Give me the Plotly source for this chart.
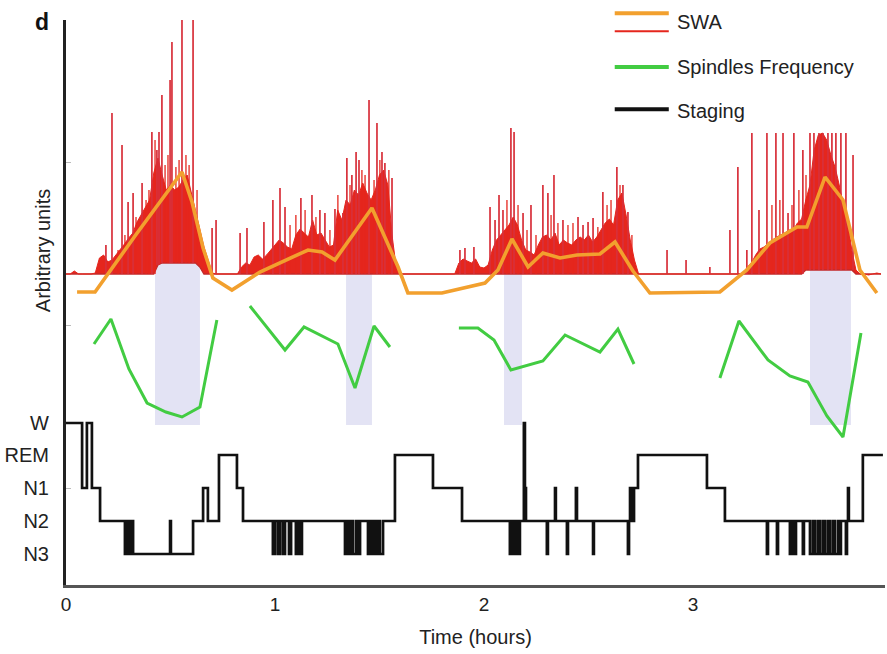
import plotly.graph_objects as go

# ------------------------------------------------------------------ data
# SWA raw signal (dense part), sampled every swa_dt hours, arbitrary units
swa_dt = 0.02
swa_hi = [
    311, 311, 314, 311, 311, 311, 311, 312, 327, 330,
    323, 325, 330, 336, 341, 347, 352, 363, 370, 378,
    385, 412, 427, 410, 395, 400, 395, 398, 405, 410,
    392, 375, 355, 338, 325, 312, 311, 311, 311, 311,
    311, 311, 318, 322, 320, 328, 330, 326, 330, 335,
    340, 345, 342, 338, 336, 350, 356, 352, 348, 365,
    350, 352, 345, 338, 340, 375, 365, 385, 380, 395,
    390, 402, 392, 385, 395, 410, 415, 400, 350, 318,
    311, 311, 311, 311, 311, 311, 311, 311, 311, 311,
    311, 311, 311, 311, 322, 326, 324, 322, 326, 318,
    317, 320, 335, 345, 350, 355, 360, 368, 360, 345,
    335, 333, 330, 340, 348, 350, 345, 352, 340, 345,
    342, 340, 345, 348, 345, 350, 343, 348, 355, 362,
    366, 360, 385, 392, 370, 345, 325, 311, 311, 311,
    311, 311, 311, 311, 311, 311, 311, 311, 311, 311,
    311, 311, 311, 311, 311, 311, 311, 311, 311, 311,
    311, 311, 311, 318, 322, 330, 336, 338, 342, 345,
    348, 350, 352, 355, 355, 362, 366, 385, 400, 435,
    450, 452, 445, 430, 418, 400, 380, 365, 335, 315,
    311, 311, 310, 311, 312, 311,
]
swa_lo = [
    311, 311, 311, 311, 311, 311, 311, 311, 311, 311,
    311, 311, 311, 311, 311, 311, 311, 311, 311, 311,
    311, 311, 320, 322, 322, 322, 322, 322, 322, 322,
    322, 322, 318, 311, 311, 311, 311, 311, 311, 311,
    311, 311, 311, 311, 311, 311, 311, 311, 311, 311,
    311, 311, 311, 311, 311, 311, 311, 311, 311, 311,
    311, 311, 311, 311, 311, 311, 311, 311, 311, 311,
    311, 311, 311, 311, 311, 311, 311, 311, 311, 311,
    311, 311, 311, 311, 311, 311, 311, 311, 311, 311,
    311, 311, 311, 311, 311, 311, 311, 311, 311, 311,
    311, 311, 311, 311, 311, 311, 311, 311, 311, 311,
    311, 311, 311, 311, 311, 311, 311, 311, 311, 311,
    311, 311, 311, 311, 311, 311, 311, 311, 311, 311,
    311, 311, 311, 311, 311, 311, 311, 311, 311, 311,
    311, 311, 311, 311, 311, 311, 311, 311, 311, 311,
    311, 311, 311, 311, 311, 311, 311, 311, 311, 311,
    311, 311, 311, 311, 311, 311, 311, 311, 311, 311,
    311, 311, 311, 311, 311, 311, 311, 315, 315, 315,
    315, 315, 315, 315, 315, 315, 315, 315, 315, 311,
    311, 311, 311, 311, 311, 311,
]

# SWA raw signal: isolated tall peaks (time in hours, peak height)
spike_t = [0.191, 0.220, 0.268, 0.297, 0.321, 0.364, 0.411, 0.435, 0.445, 0.459,
           0.498, 0.507, 0.555, 0.608, 0.699, 0.718,
           0.833, 0.866, 0.947, 0.990, 1.024, 1.048, 1.124, 1.177, 1.215, 1.239,
           1.287, 1.325, 1.344, 1.368, 1.388, 1.402, 1.450, 1.488, 1.512, 1.526, 1.560,
           1.885, 1.909, 1.952, 2.029, 2.053, 2.072, 2.091, 2.129, 2.144, 2.187,
           2.225, 2.282, 2.306, 2.335, 2.378, 2.450, 2.474, 2.498, 2.522, 2.569,
           2.636, 2.665, 2.689,
           2.876, 2.967, 3.081, 3.177, 3.215,
           3.258, 3.282, 3.316, 3.354, 3.397, 3.431, 3.455, 3.483, 3.526, 3.560,
           3.579, 3.603, 3.622, 3.646, 3.665, 3.684, 3.708, 3.732, 3.766]
spike_h = [340, 472, 440, 383, 392, 402, 453, 435, 453, 490,
           505, 543, 566, 566, 357, 365,
           352, 357, 363, 385, 397, 378, 387, 390, 375, 372,
           376, 372, 427, 410, 433, 425, 485, 462, 433, 422, 407,
           335, 337, 338, 378, 365, 390, 375, 457, 453, 372,
           380, 400, 392, 410, 365, 368, 360, 363, 367, 393,
           418, 400, 373,
           335, 325, 318, 355, 418,
           335, 452, 375, 452, 452, 452, 372, 452, 435, 452,
           452, 452, 452, 452, 452, 452, 452, 452, 430]

# SWA raw signal: smaller peaks riding on the dense band
ripple_t = [0.249, 0.282, 0.335, 0.383, 0.397, 0.426, 0.474, 0.488, 0.526, 0.541,
            0.574, 0.589, 0.627,
            1.072, 1.100, 1.144, 1.196, 1.263, 1.301, 1.359, 1.416, 1.431, 1.474,
            1.502, 1.545,
            2.110, 2.163, 2.206, 2.249, 2.321, 2.354, 2.402, 2.426, 2.545, 2.589,
            2.608, 2.651, 2.708,
            3.378, 3.416, 3.474, 3.507, 3.541]
ripple_h = [335, 350, 368, 385, 395, 445, 420, 430, 418, 425,
            430, 420, 395,
            360, 370, 375, 368, 355, 390, 400, 415, 410, 405,
            425, 415,
            385, 380, 355, 350, 370, 362, 360, 362, 358, 380,
            385, 400, 350,
            380, 385, 380, 395, 410]

# SWA smoothed curve
swa_line_t = [0.053, 0.139, 0.330, 0.555, 0.603, 0.656, 0.703, 0.794, 0.928, 1.072,
              1.158, 1.225, 1.287, 1.464, 1.589, 1.636, 1.799, 2.005, 2.067, 2.134,
              2.211, 2.282, 2.364, 2.445, 2.555, 2.627, 2.713, 2.794, 3.129, 3.258,
              3.368, 3.498, 3.545, 3.632, 3.718, 3.799, 3.880]
swa_line_y = [293, 293, 349, 413, 383, 337, 307, 295, 313, 327,
              335, 333, 325, 377, 318, 292, 292, 302, 315, 346,
              318, 332, 327, 330, 331, 343, 314, 292, 293, 315,
              342, 358, 358, 408, 385, 315, 292]

# Spindles frequency (one segment per sleep cycle, None = gap)
spindle_t = [0.134, 0.215, 0.301, 0.388, 0.478, 0.555, 0.641, 0.722, None,
             0.880, 1.048, 1.139, 1.225, 1.301, 1.383, 1.474, 1.550, None,
             1.880, 1.971, 2.048, 2.129, 2.282, 2.388, 2.555, 2.641, 2.718, None,
             3.129, 3.220, 3.359, 3.464, 3.550, 3.641, 3.718, 3.804]
spindle_y = [241, 266, 216, 182, 173, 168, 178, 265, None,
             279, 235, 258, 249, 241, 197, 259, 238, None,
             257, 257, 245, 215, 224, 250, 233, 256, 221, None,
             207, 264, 225, 209, 203, 169, 148, 252]

# Shaded windows (hours) and their vertical extent
band_start = [0.426, 1.340, 2.096, 3.560]
band_end = [0.641, 1.464, 2.182, 3.756]
band_top = [322, 311, 311, 315]
band_bottom = [160, 160, 160, 160]

# Hypnogram: stage entered at each time (hours)
stage_t = [0.000, 0.077, 0.100, 0.124, 0.163, 0.282, 0.292, 0.301, 0.311, 0.321,
           0.498, 0.502, 0.608, 0.656, 0.679, 0.732, 0.818, 0.847, 0.990, 1.000,
           1.014, 1.024, 1.038, 1.048, 1.067, 1.077, 1.100, 1.110, 1.120, 1.129,
           1.335, 1.344, 1.354, 1.364, 1.373, 1.388, 1.397, 1.407, 1.445, 1.455,
           1.464, 1.474, 1.483, 1.493, 1.502, 1.517, 1.574, 1.756, 1.895, 2.124,
           2.134, 2.144, 2.153, 2.163, 2.172, 2.191, 2.196, 2.201, 2.301, 2.306,
           2.340, 2.344, 2.397, 2.402, 2.440, 2.445, 2.522, 2.526, 2.689, 2.694,
           2.699, 2.708, 2.718, 2.737, 3.067, 3.153, 3.354, 3.359, 3.402, 3.407,
           3.464, 3.474, 3.483, 3.493, 3.526, 3.531, 3.560, 3.574, 3.584, 3.598,
           3.608, 3.622, 3.632, 3.646, 3.656, 3.670, 3.679, 3.694, 3.703, 3.708,
           3.732, 3.737, 3.742, 3.746, 3.813, 3.909]
stage_names = ["W", "N1", "W", "N1", "N2", "N3", "N2", "N3", "N2", "N3",
               "N2", "N3", "N2", "N1", "N2", "REM", "N1", "N2", "N3", "N2",
               "N3", "N2", "N3", "N2", "N3", "N2", "N3", "N2", "N3", "N2",
               "N3", "N2", "N3", "N2", "N3", "N2", "N3", "N2", "N3", "N2",
               "N3", "N2", "N3", "N2", "N3", "N2", "REM", "N1", "N2", "N3",
               "N2", "N3", "N2", "N3", "N2", "W", "N1", "N2", "N3", "N2",
               "N1", "N2", "N3", "N2", "N1", "N2", "N3", "N2", "N3", "N2",
               "N1", "N2", "N1", "REM", "N1", "N2", "N3", "N2", "N3", "N2",
               "N3", "N2", "N3", "N2", "N3", "N2", "N3", "N2", "N3", "N2",
               "N3", "N2", "N3", "N2", "N3", "N2", "N3", "N2", "N3", "N2",
               "N3", "N2", "N1", "N2", "REM", "REM"]
stage_order = ["N3", "N2", "N1", "REM", "W"]
stage_level = [31, 64, 97, 130, 162]

x_tick_vals = [0, 1, 2, 3]

# ------------------------------------------------------------------ styles
RED = "#e5261d"
RED_DARK = "#c42a2a"
SPIKE = "#d8303a"
ORANGE = "#f2a02e"
GREEN = "#42cc42"
LAVENDER = "#e3e3f4"
FONT = "Liberation Sans, Arial, sans-serif"

fig = go.Figure()

# shaded windows
bx, by = [], []
for a, b, top, bot in zip(band_start, band_end, band_top, band_bottom):
    bx += [a, b, b, a, a, None]
    by += [bot, bot, top, top, bot, None]
fig.add_trace(go.Scatter(x=bx, y=by, mode="lines", fill="toself", fillcolor=LAVENDER,
                         line=dict(width=0), hoverinfo="skip"))

# SWA raw signal: dense band
swa_t = [round(i * swa_dt, 3) for i in range(len(swa_hi))]
fig.add_trace(go.Scatter(x=swa_t, y=swa_lo, mode="lines",
                         line=dict(color=RED_DARK, width=1.3), hoverinfo="skip"))
fig.add_trace(go.Scatter(x=swa_t, y=swa_hi, mode="lines", fill="tonexty", fillcolor=RED,
                         line=dict(color=RED, width=1), hoverinfo="skip"))


def floor_at(t):
    """lower edge of the dense band at time t (nearest sample)"""
    return swa_lo[min(len(swa_lo) - 1, int(round(t / swa_dt)))]


def stems(ts, hs):
    xs, ys = [], []
    for t, h in zip(ts, hs):
        xs += [t, t, None]
        ys += [floor_at(t), h, None]
    return xs, ys


# SWA raw signal: smaller peaks
rx, ry = stems(ripple_t, ripple_h)
fig.add_trace(go.Scatter(x=rx, y=ry, mode="lines", line=dict(color=RED, width=1.3),
                         hoverinfo="skip"))

# SWA raw signal: tall peaks
sx, sy = stems(spike_t, spike_h)
fig.add_trace(go.Scatter(x=sx, y=sy, mode="lines", line=dict(color=SPIKE, width=1.7),
                         hoverinfo="skip"))

# SWA smoothed
fig.add_trace(go.Scatter(x=swa_line_t, y=swa_line_y, mode="lines",
                         line=dict(color=ORANGE, width=3.6), name="SWA"))

# spindles
fig.add_trace(go.Scatter(x=spindle_t, y=spindle_y, mode="lines",
                         line=dict(color=GREEN, width=3), name="Spindles Frequency"))

# staging
lvl = dict(zip(stage_order, stage_level))
fig.add_trace(go.Scatter(x=stage_t, y=[lvl[s] for s in stage_names], mode="lines",
                         line=dict(color="#111111", width=2.7, shape="hv"), name="Staging"))

# ------------------------------------------------------------------ legend (drawn)
def lg_line(y, color, width):
    return dict(type="line", xref="paper", yref="paper", x0=0.670, x1=0.736, y0=y, y1=y,
                line=dict(color=color, width=width))

shapes = [lg_line(1.012, ORANGE, 4), lg_line(0.980, RED, 2),
          lg_line(0.917, GREEN, 4), lg_line(0.842, "#111111", 4)]

annotations = [
    dict(text="SWA", x=0.744, y=0.997, xref="paper", yref="paper", xanchor="left",
         yanchor="middle", showarrow=False, font=dict(size=20)),
    dict(text="Spindles Frequency", x=0.744, y=0.917, xref="paper", yref="paper",
         xanchor="left", yanchor="middle", showarrow=False, font=dict(size=20)),
    dict(text="Staging", x=0.744, y=0.839, xref="paper", yref="paper", xanchor="left",
         yanchor="middle", showarrow=False, font=dict(size=20)),
    dict(text="Arbitrary units", x=-0.028, y=0.591, xref="paper", yref="paper",
         textangle=-90, xanchor="center", yanchor="middle", showarrow=False,
         font=dict(size=20)),
    dict(text="<b>d</b>", x=-0.029, y=0.996, xref="paper", yref="paper",
         xanchor="center", yanchor="middle", showarrow=False, font=dict(size=23, color="#111")),
]

fig.update_layout(
    width=887, height=654,
    margin=dict(l=66, r=2, t=20, b=69, autoexpand=False),
    plot_bgcolor="white", paper_bgcolor="white",
    showlegend=False,
    font=dict(family=FONT, size=20, color="#222"),
    shapes=shapes, annotations=annotations,
    xaxis=dict(range=[0, 3.919], tickvals=x_tick_vals, ticktext=[str(v) for v in x_tick_vals],
               showline=True, linecolor="#555", linewidth=3, ticks="", showgrid=False,
               zeroline=False, tickfont=dict(size=19), automargin=False,
               title=dict(text="Time (hours)", font=dict(size=20), standoff=17)),
    yaxis=dict(range=[0, 565], tickvals=stage_level, ticktext=stage_order,
               showline=True, linecolor="#222", linewidth=3, ticks="", showgrid=False,
               zeroline=False, tickfont=dict(size=20), ticklabelstandoff=10, automargin=False,
               minor=dict(tickvals=[97, 260, 423], ticks="inside", ticklen=5,
                          tickcolor="#bbbbbb", showgrid=False)),
)

fig.write_html("out.html", config={"displayModeBar": False},
               post_script="document.body.style.margin='0';document.body.style.overflow='hidden';")
